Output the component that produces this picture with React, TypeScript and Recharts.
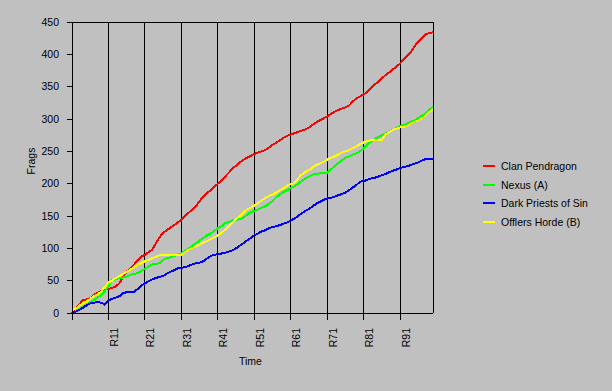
import React from 'react';
import { LineChart, Line, XAxis, YAxis, CartesianGrid } from 'recharts';

const rounds: number[] = Array.from({ length: 100 }, (_, i) => i + 1);

const clanPendragon = [0,6,13,20,21,23,28,31,34,36,37,39,41,46,56,64,69,75,81,87,90,94,98,108,117,124,128,132,136,140,144,150,155,160,165,173,180,185,190,195,200,205,211,217,223,228,233,237,240,243,246,248,250,252,256,260,263,267,271,274,276,278,280,282,284,287,291,295,298,301,304,308,311,314,316,318,321,327,332,335,338,342,348,353,358,363,368,372,377,381,386,392,398,404,413,420,426,431,433,434];

const nexusA = [0,3,6,10,13,17,20,24,28,34,41,51,52,54,55,56,59,60,62,65,68,72,75,76,77,82,85,86,88,90,92,96,100,104,108,112,116,120,123,127,131,134,139,141,143,144,145,147,152,156,158,160,163,165,169,173,179,184,187,190,193,196,200,204,208,211,214,215,216,216,217,222,227,232,236,240,242,245,247,250,255,260,265,269,272,275,278,281,283,286,289,291,293,296,298,302,305,309,314,319];

const darkPriests = [0,2,5,8,12,15,16,17,16,13,19,22,24,26,31,32,33,33,37,42,46,49,52,54,56,57,61,64,66,69,70,71,73,75,77,78,80,84,88,90,91,92,93,95,97,100,104,108,112,116,120,123,126,128,131,133,134,136,138,140,143,146,150,154,158,161,165,169,172,175,177,178,180,182,184,186,190,194,198,203,204,206,208,209,211,213,215,218,220,222,224,226,227,229,231,233,236,238,238,239];

const offlersHorde = [4,7,11,15,18,22,26,29,33,40,47,50,54,57,60,64,67,71,75,77,80,82,85,87,89,89,89,89,89,89,90,94,98,101,103,106,109,111,114,117,120,124,129,134,140,145,150,155,160,163,166,170,174,178,181,183,186,190,193,197,199,201,208,214,218,221,225,229,231,234,237,240,242,245,248,250,252,255,258,261,264,266,267,267,267,268,276,280,283,285,287,288,290,293,296,298,301,306,311,315];

const seriesNames = ['Clan Pendragon', 'Nexus (A)', 'Dark Priests of Sin', 'Offlers Horde (B)'];
const seriesKeys = ['pendragon', 'nexus', 'priests', 'offlers'];
const seriesColors = ['#FF0000', '#00FF00', '#0000FF', '#FFFF00'];

const xTicks = [1, 11, 21, 31, 41, 51, 61, 71, 81, 91];
const xTickLabels = ['', 'R11', 'R21', 'R31', 'R41', 'R51', 'R61', 'R71', 'R81', 'R91'];
const yTicks = [0, 50, 100, 150, 200, 250, 300, 350, 400, 450];

const data = rounds.map((r, i) => ({
  round: r,
  pendragon: clanPendragon[i],
  nexus: nexusA[i],
  priests: darkPriests[i],
  offlers: offlersHorde[i],
}));

const FONT = '"Liberation Sans", Arial, sans-serif';
const FS = 10.5;

const XTick = (props: any) => {
  const { x, y, payload } = props;
  const idx = xTicks.indexOf(payload.value);
  const label = idx >= 0 ? xTickLabels[idx] : '';
  if (!label) return <g />;
  const tx = x + 9.5;
  const ty = y + 6;
  return (
    <text x={tx} y={ty} transform={`rotate(-90 ${tx} ${ty})`} textAnchor="end" fill="#000" fontSize={FS} fontFamily={FONT}>
      {label}
    </text>
  );
};

const ChartLegend = () => (
  <div style={{ position: 'absolute', left: 483, top: 157, fontFamily: FONT, fontSize: FS, color: '#000' }}>
    {seriesNames.map((n, i) => (
      <div key={n} style={{ position: 'relative', height: 18.7, lineHeight: '18.7px', whiteSpace: 'nowrap' }}>
        <span style={{ position: 'absolute', left: 0, top: 8, width: 12, height: 2, background: seriesColors[i] }} />
        <span style={{ position: 'absolute', left: 18 }}>{n}</span>
      </div>
    ))}
  </div>
);

const css = `
.recharts-cartesian-grid line, .recharts-cartesian-axis line { shape-rendering: crispEdges; }
.recharts-line-curve { shape-rendering: crispEdges; }
`;

export default function App() {
  return (
    <div style={{ position: 'absolute', left: 0, top: 0, width: 612, height: 391, background: '#C0C0C0' }}>
      <style>{css}</style>
      <LineChart width={612} height={391} data={data} margin={{ top: 22, right: 119, bottom: 18, left: 12 }}>
        <CartesianGrid stroke="#000" strokeWidth={1} />
        <XAxis
          dataKey="round"
          type="number"
          domain={[1, 100]}
          ticks={xTicks}
          interval={0}
          tick={<XTick />}
          tickSize={7}
          height={60}
          axisLine={{ stroke: '#000' }}
          tickLine={{ stroke: '#000' }}
          label={(p: any) => {
            const vb = p.viewBox || { x: 72, y: 313, width: 361 };
            return (
              <text x={vb.x + vb.width / 2 - 2} y={vb.y + 52} textAnchor="middle" fill="#000" fontSize={FS} fontFamily={FONT}>
                Time
              </text>
            );
          }}
        />
        <YAxis
          yAxisId="left"
          orientation="left"
          domain={[0, 450]}
          ticks={yTicks}
          interval={0}
          width={60}
          tickSize={5}
          tickMargin={8}
          axisLine={{ stroke: '#000' }}
          tickLine={{ stroke: '#000' }}
          tick={{ fill: '#000', fontSize: FS, fontFamily: FONT }}
          label={() => {
            const cx = 31;
            const cy = 161;
            return (
              <text x={cx} y={cy} transform={`rotate(-90 ${cx} ${cy})`} textAnchor="middle" dominantBaseline="central" fill="#000" fontSize={FS} fontFamily={FONT}>
                Frags
              </text>
            );
          }}
        />
        <YAxis
          yAxisId="right"
          orientation="right"
          domain={[0, 450]}
          ticks={yTicks}
          interval={0}
          width={60}
          tickSize={5}
          tickMargin={4}
          axisLine={{ stroke: '#000' }}
          tickLine={{ stroke: '#000' }}
          tick={{ fill: '#000', fontSize: FS, fontFamily: FONT, textAnchor: 'start' }}
        />
        {seriesKeys.map((k, i) => (
          <Line
            key={k}
            yAxisId="left"
            type="linear"
            dataKey={k}
            name={seriesNames[i]}
            stroke={seriesColors[i]}
            strokeWidth={2}
            dot={false}
            activeDot={false}
            isAnimationActive={false}
          />
        ))}
      </LineChart>
      <ChartLegend />
    </div>
  );
}
